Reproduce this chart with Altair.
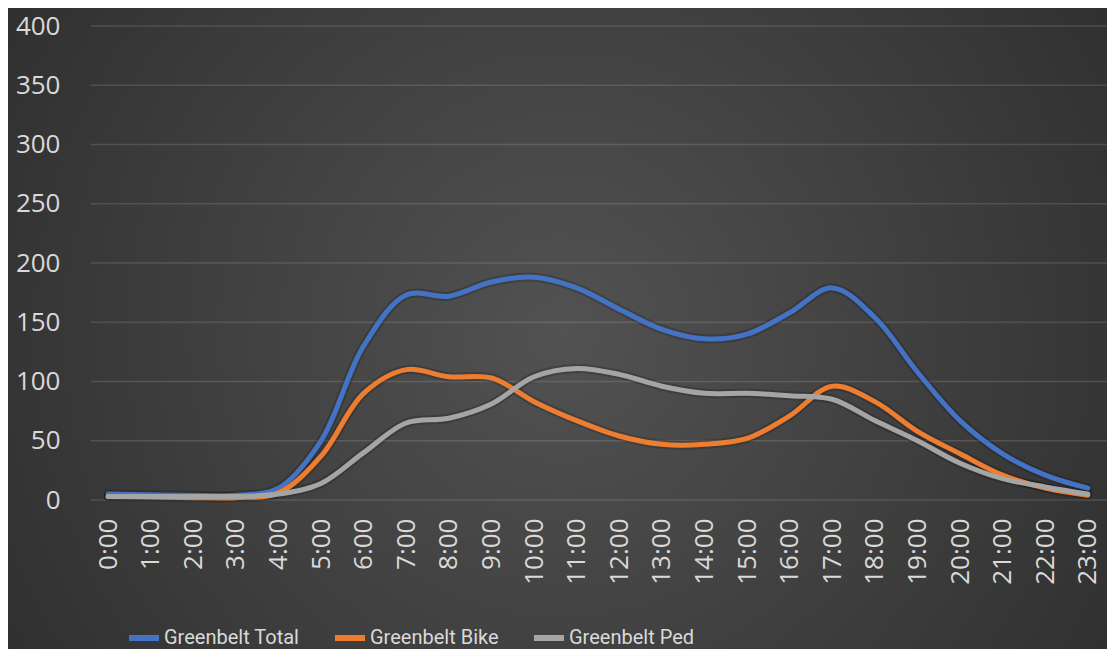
import json
import altair as alt
import pandas as pd

hours = list(range(24))
hour_labels = [f"{h}:00" for h in hours]
series_names = ["Greenbelt Total", "Greenbelt Bike", "Greenbelt Ped"]
series_colors = ["#4472C4", "#ED7D31", "#A5A5A5"]

total = [5, 4.5, 4, 4, 10, 50, 130, 173, 172, 184, 188, 179, 161, 144, 136, 140, 158, 179, 154, 108, 67, 39, 21, 10]
bike = [3, 2.5, 2, 2, 6, 37, 90, 110, 104, 103, 83, 67, 54, 47, 47, 52, 71, 96, 83, 58, 39, 21, 10, 4]
ped = [3, 3, 3, 3, 5, 14, 40, 65, 69, 81, 104, 111, 106, 96, 90, 90, 88, 85, 67, 50, 31, 18, 11, 5]
y_ticks = [0, 50, 100, 150, 200, 250, 300, 350, 400]

rows = []
for name, vals in zip(series_names, [total, bike, ped]):
    for h, v in zip(hours, vals):
        rows.append({"hour": h, "value": v, "series": name})
df = pd.DataFrame(rows)

W, H = 1016, 474
PAD_L, PAD_T = 83, 18
TOTAL_H = 641
PAD_B = TOTAL_H - PAD_T - H

text_color = "#d9d9d9"
font = "Open Sans"

bg = alt.Chart(pd.DataFrame({"a": [0]})).mark_rect(
    fill=alt.Gradient(
        gradient="radial",
        stops=[
            alt.GradientStop(color="#525252", offset=0),
            alt.GradientStop(color="#3c3c3c", offset=0.5),
            alt.GradientStop(color="#262626", offset=1),
        ],
        x1=0.5, y1=0.5, r1=0, x2=0.5, y2=0.5, r2=0.75,
    ),
    stroke=None,
).encode(
    x=alt.value(-PAD_L), x2=alt.value(W + 10),
    y=alt.value(-PAD_T), y2=alt.value(H + PAD_B + 10),
)

grid = alt.Chart(pd.DataFrame({"v": y_ticks})).mark_rule(
    color="#ffffff", opacity=0.13, strokeWidth=1.5
).encode(
    y=alt.Y("v:Q", scale=alt.Scale(domain=[0, 400])),
    x=alt.value(0), x2=alt.value(W),
)

label_expr = json.dumps(hour_labels) + "[datum.value]"

x_enc = alt.X(
    "hour:Q",
    scale=alt.Scale(domain=[-0.4, 23.45], nice=False, zero=False),
    axis=alt.Axis(
        values=hours, labelExpr=label_expr, labelAngle=-90, labelAlign="right",
        labelBaseline="middle", labelPadding=18, ticks=False, domain=False, grid=False,
        labelFont=font, labelFontSize=26, labelColor=text_color, labelOverlap=False,
        labelFlush=False, title=None, zindex=1,
    ),
)
y_enc = alt.Y(
    "value:Q",
    scale=alt.Scale(domain=[0, 400], nice=False),
    axis=alt.Axis(
        values=y_ticks, ticks=False, domain=False, grid=False, labelPadding=31,
        labelFont=font, labelFontSize=26, labelColor=text_color, title=None, zindex=1,
        labelFlush=False,
    ),
)

shadow = alt.Chart(df).mark_line(
    strokeWidth=9, interpolate="catmull-rom", color="#000000", opacity=0.18,
    strokeCap="round", strokeJoin="round"
).encode(x=alt.X("hour:Q"), y=alt.Y("value:Q"), detail="series:N")

lines = alt.Chart(df).mark_line(
    strokeWidth=5, interpolate="catmull-rom", strokeCap="round", strokeJoin="round"
).encode(
    x=x_enc,
    y=y_enc,
    color=alt.Color(
        "series:N",
        scale=alt.Scale(domain=series_names, range=series_colors),
        sort=series_names,
        legend=alt.Legend(
            orient="none", legendX=35, legendY=594, direction="horizontal", title=None,
            symbolType="stroke", symbolStrokeWidth=6, symbolSize=900,
            labelFont="Roboto", labelFontSize=20, labelColor=text_color,
            columnPadding=23, labelOffset=2,
        ),
    ),
    detail="series:N",
)

chart = alt.layer(bg, grid, shadow, lines).properties(
    width=W, height=H,
    autosize=alt.AutoSizeParams(type="none"),
    padding={"left": PAD_L, "top": PAD_T, "right": 0, "bottom": PAD_B},
).configure(background="#2b2b2b").configure_view(stroke=None)

chart.save("out.html", embed_options={"renderer": "svg", "actions": False})
